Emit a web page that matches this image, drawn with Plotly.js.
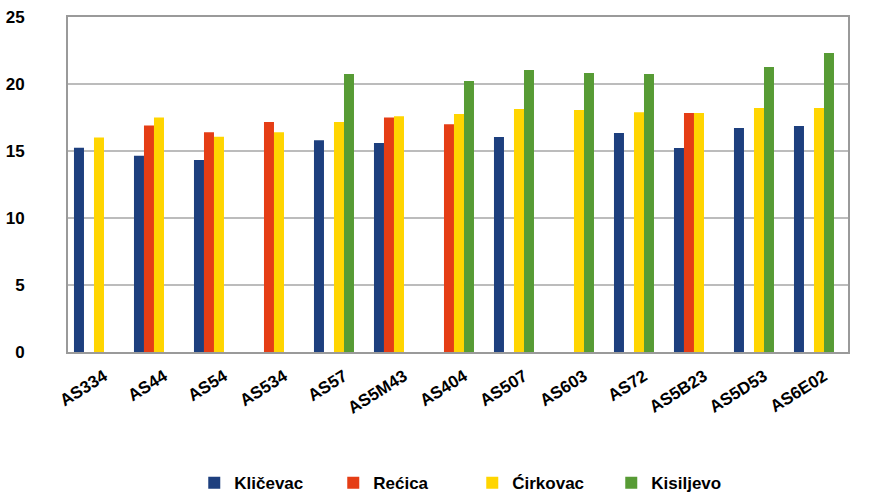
<!DOCTYPE html>
<html>
<head>
<meta charset="utf-8">
<script src="https://cdn.plot.ly/plotly-3.0.1.min.js"></script>
<style>html,body{margin:0;padding:0;background:#fff;}#chart{width:879px;height:494px;}</style>
</head>
<body>
<div id="chart"></div>
<script>
const categories = ["AS334","AS44","AS54","AS534","AS57","AS5M43","AS404","AS507","AS603","AS72","AS5B23","AS5D53","AS6E02"];
const seriesNames = ["Kličevac","Rećica","Ćirkovac","Kisiljevo"];
const klicevac  = [15.25, 14.65, 14.33, null, 15.8, 15.6, null, 16.04, null, 16.34, 15.22, 16.72, 16.87];
const recica    = [null, 16.9, 16.4, 17.16, null, 17.5, 17.0, null, null, null, 17.84, null, null];
const cirkovac  = [16.0, 17.5, 16.07, 16.4, 17.16, 17.6, 17.76, 18.13, 18.06, 17.9, 17.84, 18.2, 18.2];
const kisiljevo = [null, null, null, null, 20.75, null, 20.22, 21.04, 20.82, 20.75, null, 21.27, 22.31];
const yTicks = [0, 5, 10, 15, 20, 25];

const colors = ["#1D3F7E", "#E53D15", "#FFD500", "#579B35"];
const values = [klicevac, recica, cirkovac, kisiljevo];

const font = "Liberation Sans, Arial, sans-serif";
const traces = values.map((v, i) => ({
  type: "bar",
  name: seriesNames[i],
  x: categories,
  y: v,
  marker: {color: colors[i], line: {width: 0}},
  hoverinfo: "x+y+name"
}));

const layout = {
  width: 879, height: 494,
  margin: {l: 68, r: 31, t: 17, b: 142, pad: 0},
  paper_bgcolor: "#fff", plot_bgcolor: "#fff",
  barmode: "group", bargap: 0.333, bargroupgap: 0,
  showlegend: true,
  font: {family: font, size: 15, color: "#000"},
  xaxis: {
    type: "category",
    range: [-0.433, 12.567],
    tickangle: -32,
    ticklabelshift: 10,
    ticklabelstandoff: 6,
    automargin: false,
    tickfont: {family: font, size: 17, color: "#000", weight: "bold"},
    showline: true, linecolor: "#9a9a9a", linewidth: 2, mirror: true,
    showgrid: false, ticks: "", zeroline: false
  },
  yaxis: {
    range: [0, 25],
    tickvals: yTicks,
    ticktext: yTicks.map(String),
    automargin: false,
    tickfont: {family: font, size: 17, color: "#000", weight: "bold"},
    showline: true, linecolor: "#9a9a9a", linewidth: 2, mirror: true,
    showgrid: true, gridcolor: "#bcbcbc", gridwidth: 2,
    zeroline: false, ticks: "", ticklabelstandoff: 38
  },
  legend: {
    orientation: "h",
    xref: "container", x: 0.221, xanchor: "left",
    yref: "container", y: 0.022, yanchor: "middle",
    entrywidth: 94,
    font: {family: font, size: 17, color: "#000", weight: "bold"},
    bgcolor: "rgba(0,0,0,0)", borderwidth: 0,
    itemclick: false
  }
};

Plotly.newPlot("chart", traces, layout, {displayModeBar: false, staticPlot: true});
</script>
</body>
</html>
